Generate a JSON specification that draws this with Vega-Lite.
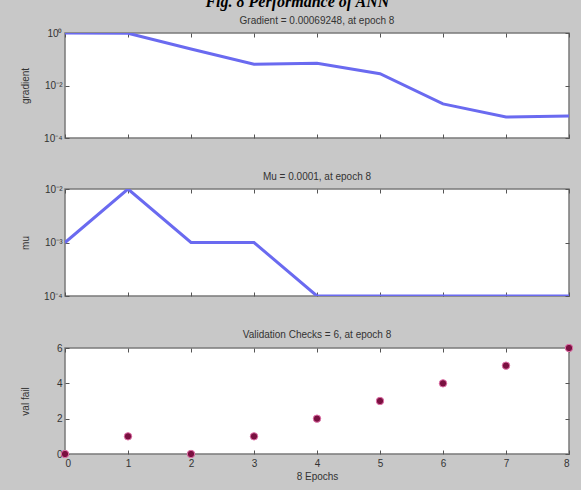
{
  "$schema": "https://vega.github.io/schema/vega-lite/v6.json",
  "background": "#c8c8c8",
  "padding": {"left": 19, "top": -6, "right": 12, "bottom": 8},
  "title": {"text": "Fig. 8 Performance of ANN", "anchor": "middle", "font": "Liberation Serif", "fontStyle": "italic", "fontWeight": "bold", "fontSize": 16, "color": "#000000", "dy": -8, "offset": -3},
  "datasets": {
    "grad": [
      {"epoch": 0, "gradient": 1.0},
      {"epoch": 1, "gradient": 0.98},
      {"epoch": 2, "gradient": 0.245},
      {"epoch": 3, "gradient": 0.065},
      {"epoch": 4, "gradient": 0.07},
      {"epoch": 5, "gradient": 0.028},
      {"epoch": 6, "gradient": 0.002},
      {"epoch": 7, "gradient": 0.00063},
      {"epoch": 8, "gradient": 0.00069248}
    ],
    "mu": [
      {"epoch": 0, "mu": 0.001},
      {"epoch": 1, "mu": 0.01},
      {"epoch": 2, "mu": 0.001},
      {"epoch": 3, "mu": 0.001},
      {"epoch": 4, "mu": 0.0001},
      {"epoch": 5, "mu": 0.0001},
      {"epoch": 6, "mu": 0.0001},
      {"epoch": 7, "mu": 0.0001},
      {"epoch": 8, "mu": 0.0001}
    ],
    "val": [
      {"epoch": 0, "fail": 0},
      {"epoch": 1, "fail": 1},
      {"epoch": 2, "fail": 0},
      {"epoch": 3, "fail": 1},
      {"epoch": 4, "fail": 2},
      {"epoch": 5, "fail": 3},
      {"epoch": 6, "fail": 4},
      {"epoch": 7, "fail": 5},
      {"epoch": 8, "fail": 6}
    ]
  },
  "spacing": 27,
  "vconcat": [
    {
      "title": "Gradient = 0.00069248, at epoch 8",
      "width": 504,
      "height": 105,
      "data": {"name": "grad"},
      "layer": [
        {
          "mark": {"type": "line", "color": "#6a6af0", "strokeWidth": 3, "clip": true},
          "encoding": {
            "x": {"field": "epoch", "type": "quantitative", "scale": {"domain": [0, 8], "nice": false}, "axis": {"values": [0,1,2,3,4,5,6,7,8], "labels": false, "title": null, "maxExtent": 0, "minExtent": 0}},
            "y": {"field": "gradient", "type": "quantitative", "scale": {"type": "log", "domain": [0.0001, 1], "nice": false}, "axis": {"title": "gradient", "values": [0.0001, 0.01, 1], "labelExpr": "datum.value >= 0.5 ? '10⁰' : datum.value >= 0.005 ? '10⁻²' : '10⁻⁴'"}}
          }
        },
        {
          "mark": {"type": "line", "opacity": 0},
          "encoding": {
            "x": {"field": "epoch", "type": "quantitative", "axis": {"orient": "top", "values": [0,1,2,3,4,5,6,7,8], "labels": false, "title": null, "maxExtent": 0, "minExtent": 0}},
            "y": {"field": "gradient", "type": "quantitative", "axis": {"orient": "right", "values": [0.0001, 0.01, 1], "labels": false, "title": null, "maxExtent": 0, "minExtent": 0}}
          }
        }
      ],
      "resolve": {"axis": {"x": "independent", "y": "independent"}}
    },
    {
      "title": "Mu = 0.0001, at epoch 8",
      "width": 504,
      "height": 107,
      "data": {"name": "mu"},
      "layer": [
        {
          "mark": {"type": "line", "color": "#6a6af0", "strokeWidth": 3, "clip": true},
          "encoding": {
            "x": {"field": "epoch", "type": "quantitative", "scale": {"domain": [0, 8], "nice": false}, "axis": {"values": [0,1,2,3,4,5,6,7,8], "labels": false, "title": null, "maxExtent": 0, "minExtent": 0}},
            "y": {"field": "mu", "type": "quantitative", "scale": {"type": "log", "domain": [0.0001, 0.01], "nice": false}, "axis": {"title": "mu", "values": [0.0001, 0.001, 0.01], "labelExpr": "datum.value >= 0.005 ? '10⁻²' : datum.value >= 0.0005 ? '10⁻³' : '10⁻⁴'"}}
          }
        },
        {
          "mark": {"type": "line", "opacity": 0},
          "encoding": {
            "x": {"field": "epoch", "type": "quantitative", "axis": {"orient": "top", "values": [0,1,2,3,4,5,6,7,8], "labels": false, "title": null, "maxExtent": 0, "minExtent": 0}},
            "y": {"field": "mu", "type": "quantitative", "axis": {"orient": "right", "values": [0.0001, 0.001, 0.01], "labels": false, "title": null, "maxExtent": 0, "minExtent": 0}}
          }
        }
      ],
      "resolve": {"axis": {"x": "independent", "y": "independent"}}
    },
    {
      "title": "Validation Checks = 6, at epoch 8",
      "width": 504,
      "height": 106,
      "data": {"name": "val"},
      "layer": [
        {
          "mark": {"type": "point", "filled": true, "shape": "circle", "size": 55, "fill": "#7a1040", "stroke": "#e070a8", "strokeWidth": 1, "opacity": 1},
          "encoding": {
            "x": {"field": "epoch", "type": "quantitative", "scale": {"domain": [0, 8], "nice": false}, "axis": {"values": [0,1,2,3,4,5,6,7,8], "title": "8 Epochs", "labelPadding": 8, "titlePadding": 3}},
            "y": {"field": "fail", "type": "quantitative", "scale": {"domain": [0, 6], "nice": false}, "axis": {"title": "val fail", "values": [0, 2, 4, 6]}}
          }
        },
        {
          "mark": {"type": "point", "opacity": 0},
          "encoding": {
            "x": {"field": "epoch", "type": "quantitative", "axis": {"orient": "top", "values": [0,1,2,3,4,5,6,7,8], "labels": false, "title": null, "maxExtent": 0, "minExtent": 0}},
            "y": {"field": "fail", "type": "quantitative", "axis": {"orient": "right", "values": [0, 2, 4, 6], "labels": false, "title": null, "maxExtent": 0, "minExtent": 0}}
          }
        }
      ],
      "resolve": {"axis": {"x": "independent", "y": "independent"}}
    }
  ],
  "config": {
    "font": "Liberation Sans",
    "view": {"fill": "#ffffff", "stroke": "#7a7a7a", "strokeWidth": 1.5},
    "title": {"fontSize": 10, "fontWeight": "normal", "color": "#333333", "offset": 2, "font": "Liberation Sans"},
    "axis": {
      "domain": false,
      "grid": false,
      "tickSize": -4,
      "tickColor": "#555555",
      "labelFontSize": 10,
      "labelColor": "#333333",
      "labelPadding": 7,
      "titleFontSize": 10,
      "titleFontWeight": "normal",
      "titleColor": "#333333"
    },
    "axisY": {"minExtent": 27, "maxExtent": 27, "titlePadding": 8}
  }
}
